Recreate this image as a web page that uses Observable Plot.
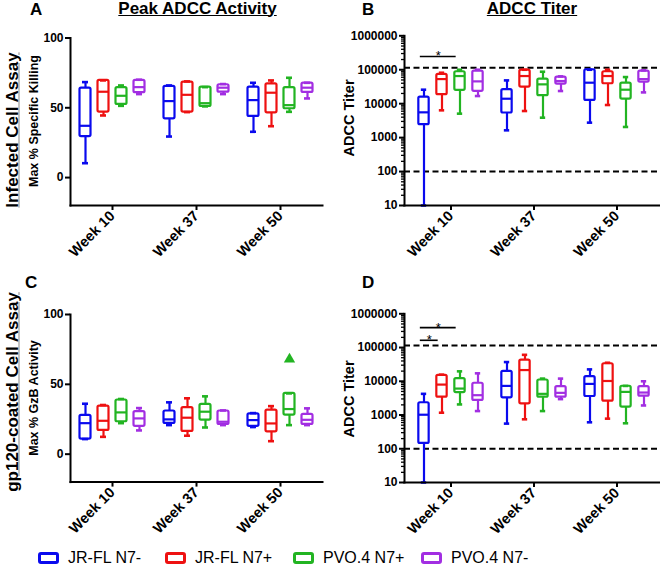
<!DOCTYPE html>
<html><head><meta charset="utf-8">
<script src="https://cdn.jsdelivr.net/npm/d3@7"></script>
<script src="https://cdn.jsdelivr.net/npm/@observablehq/plot@0.6"></script>
<style>
body{margin:0;background:#fff;}
#root{position:relative;width:660px;height:565px;overflow:hidden;font-family:"Liberation Sans",Arial,sans-serif;color:#000;background:#fff;}
.svgwrap{position:absolute;}
.svgwrap svg{background:transparent !important;overflow:visible;}
.letter{position:absolute;font-weight:bold;font-size:17px;line-height:1;}
.title{position:absolute;font-weight:bold;font-size:17px;line-height:1;text-decoration:underline;text-decoration-thickness:1px;white-space:nowrap;transform:translateX(-50%);}
.rowlab{position:absolute;font-weight:bold;font-size:17px;line-height:1;white-space:nowrap;text-decoration:underline;text-decoration-color:#888;transform:translate(-50%,-50%) rotate(-90deg);}
.ylab{position:absolute;font-weight:bold;line-height:1;white-space:nowrap;transform:translate(-50%,-50%) rotate(-90deg);}
.leg{position:absolute;top:548px;height:20px;display:flex;align-items:center;}
.sw{box-sizing:border-box;width:21px;height:12px;border:3px solid;border-radius:3px;margin-right:9px;}
.lt{font-family:"Liberation Sans Narrow","Arial Narrow","Liberation Sans",sans-serif;font-size:16px;line-height:1;}
</style>
</head><body>
<div id="root"></div>
<script>
// ---------- data ----------
const weeks = ["Week 10", "Week 37", "Week 50"];
const groups = ["JR-FL N7-", "JR-FL N7+", "PVO.4 N7+", "PVO.4 N7-"];
const colors = ["#0a0aee", "#ee1111", "#22b422", "#a22ee2"];

// each entry: [min, q1, median, q3, max] for Week 10, Week 37, Week 50
// Panel A: Infected cell assay, Max % specific killing
const peakInfected = [
  [[10.3, 29.4, 37.1, 64.1, 68.4], [29.4, 42.1, 54.8, 65.3, 66.0], [32.8, 43.8, 55.5, 64.8, 67.9]],
  [[44.5, 46.9, 61.5, 69.6, 69.6], [46.9, 46.9, 59.3, 68.4, 68.9], [36.8, 46.4, 60.8, 67.2, 69.6]],
  [[51.4, 52.4, 58.6, 64.4, 66.0], [51.0, 51.0, 53.3, 64.8, 64.8], [47.1, 49.3, 51.9, 64.4, 71.5]],
  [[59.8, 60.8, 64.8, 69.6, 70.1], [59.8, 61.2, 64.4, 66.5, 67.0], [56.7, 61.0, 64.4, 67.7, 67.9]]
];
// Panel B: Infected cell assay, ADCC titer
const titerInfected = [
  [[10, 2410, 5560, 15700, 25800], [1640, 5310, 14000, 25800, 48500], [2760, 12500, 41500, 100000, 100000]],
  [[6370, 18400, 53100, 72900, 81600], [6080, 30900, 65200, 97000, 100000], [9140, 38700, 65200, 87300, 100000]],
  [[5080, 24700, 65200, 87300, 100000], [3870, 17200, 37100, 53100, 87300], [2060, 13700, 25800, 40500, 60800]],
  [[16800, 23100, 45400, 91400, 100000], [23600, 37900, 46400, 60800, 63700], [21500, 43400, 53100, 91400, 95600]]
];
// Panel C: gp120-coated cell assay, Max % GzB activity
const peakGp120 = [
  [[10.8, 10.8, 22.2, 27.8, 36.1], [20.8, 22.0, 24.9, 30.9, 37.1], [19.4, 19.9, 24.4, 28.9, 29.4]],
  [[12.4, 17.0, 23.9, 34.4, 35.2], [13.2, 16.3, 26.1, 33.3, 40.0], [9.3, 16.0, 22.0, 31.6, 34.4]],
  [[22.2, 23.2, 29.9, 38.8, 39.5], [19.1, 24.4, 30.4, 35.6, 41.4], [20.8, 28.0, 32.3, 43.5, 43.5]],
  [[17.0, 19.9, 25.6, 30.4, 33.0], [20.8, 21.3, 23.2, 30.9, 31.3], [20.8, 21.3, 24.6, 28.5, 32.8]]
];
const outliersGp120 = [{week: "Week 50", group: 2, value: 67.9}];
// Panel D: gp120-coated cell assay, ADCC titer
const titerGp120 = [
  [[10, 144, 1020, 2310, 4240], [556, 3240, 7290, 19700, 37100], [608, 3540, 8360, 13700, 22500]],
  [[1170, 3380, 7980, 15000, 15700], [747, 2150, 21500, 42400, 60800], [780, 2580, 10200, 33100, 35400]],
  [[2060, 4640, 6080, 12000, 19700], [1310, 3380, 4240, 10900, 12000], [569, 1720, 4850, 7130, 7290]],
  [[1310, 2700, 3870, 8730, 17200], [2960, 3380, 4540, 6960, 12000], [1920, 3620, 4640, 6960, 10000]]
];
const titerCutoffs = [115000, 100];
const sigInfected = [{week: "Week 10", from: 0, to: 2, value: 246000}];
const sigGp120 = [{week: "Week 10", from: 0, to: 2, value: 388000}, {week: "Week 10", from: 0, to: 1, value: 164000}];
const linearTicks = [0, 50, 100];
const logTicks = [10, 100, 1000, 10000, 100000, 1000000];

// ---------- helpers ----------
const STEP = 18, BOXW = 11, CAPW = 6, SW = 2.2;
const offset = i => (i - 1.5) * STEP;
const minorTicks = [];
for (let k = 1; k < 6; k++) for (let m = 2; m < 10; m++) minorTicks.push(m * Math.pow(10, k));

function boxMarks(rows, bw) {
  const marks = [];
  const boxInset = (bw - BOXW) / 2, capInset = (bw - CAPW) / 2;
  groups.forEach((g, i) => {
    const data = weeks.map((w, j) => {
      const [min, q1, median, q3, max] = rows[i][j];
      return {week: w, group: g, min, q1, median, q3, max};
    });
    const dx = offset(i), c = colors[i];
    const line = {x: "week", stroke: c, strokeWidth: SW, dx};
    marks.push(
      Plot.ruleX(data, {...line, y1: "min", y2: "q1"}),
      Plot.ruleX(data, {...line, y1: "q3", y2: "max"}),
      Plot.barY(data, {...line, y1: "q1", y2: "q3", fill: "white", insetLeft: boxInset, insetRight: boxInset, rx: 1.5}),
      Plot.tickY(data, {...line, y: "median", insetLeft: boxInset, insetRight: boxInset}),
      Plot.tickY(data, {...line, y: "min", insetLeft: capInset, insetRight: capInset, strokeWidth: 2.6}),
      Plot.tickY(data, {...line, y: "max", insetLeft: capInset, insetRight: capInset, strokeWidth: 2.6})
    );
  });
  return marks;
}

function sigMarks(sig, bw) {
  const marks = [];
  sig.forEach(s => {
    const x1 = offset(s.from) - 4, x2 = offset(s.to) - 3.5;
    marks.push(
      Plot.tickY([s], {x: "week", y: "value", stroke: "black", strokeWidth: 1.6,
        insetLeft: bw / 2 + x1, insetRight: bw / 2 - x2}),
      Plot.text([s], {x: "week", y: "value", text: () => "*", fontWeight: "normal", fontSize: 13,
        lineAnchor: "bottom", dy: 4, dx: (x1 + x2) / 2})
    );
  });
  return marks;
}

function makePanel({rows, type, width, height, mt, mb, ml, mr, xInsetL = 0, xInsetR = 0, cutoffs, sig, outliers}) {
  const bw = (width - ml - mr - xInsetL - xInsetR) / weeks.length;
  const isLog = type === "log";
  const marks = [];
  if (isLog) marks.push(Plot.ruleY(cutoffs, {stroke: "black", strokeWidth: 2, strokeDasharray: "6,3.5"}));
  marks.push(...boxMarks(rows, bw));
  if (outliers) marks.push(Plot.dot(outliers, {x: "week", y: "value", symbol: "triangle", fill: colors[2], stroke: "none", r: 4.2, dx: offset(2)}));
  if (sig) marks.push(...sigMarks(sig, bw));
  marks.push(
    Plot.frame({anchor: "left", stroke: "black", strokeWidth: 2}),
    Plot.frame({anchor: "bottom", stroke: "black", strokeWidth: 2}),
    Plot.axisY({ticks: isLog ? logTicks : linearTicks, tickSize: 5, tickPadding: 2, strokeWidth: 2,
      tickFormat: d => String(d), label: null, fontSize: 12}),
    Plot.axisX({tickRotate: -45, tickSize: 5, tickPadding: 3, strokeWidth: 2, label: null, fontSize: 14.5})
  );
  if (isLog) marks.push(Plot.axisY({ticks: minorTicks, tickSize: 3, strokeWidth: 1.3, tickFormat: () => "", label: null}));
  return Plot.plot({
    width, height, marginTop: mt, marginBottom: mb, marginLeft: ml, marginRight: mr,
    x: {type: "band", domain: weeks, padding: 0, insetLeft: xInsetL, insetRight: xInsetR, label: null},
    y: isLog ? {type: "log", domain: [10, 1000000], label: null} : {domain: [-20, 100], label: null},
    style: {fontFamily: "Liberation Sans, Arial, sans-serif", fontSize: "12px", fontWeight: "bold", color: "black", background: "transparent"},
    marks
  });
}

const root = document.getElementById("root");
function place(node, left, top) {
  const d = document.createElement("div");
  d.className = "svgwrap"; d.style.left = left + "px"; d.style.top = top + "px";
  d.appendChild(node); root.appendChild(d);
}
function html(cls, text, left, top, extra = {}) {
  const d = document.createElement("div");
  d.className = cls; d.textContent = text;
  d.style.left = left + "px"; d.style.top = top + "px";
  Object.assign(d.style, extra);
  root.appendChild(d);
}

place(makePanel({rows: peakInfected, type: "linear", width: 330, height: 260, mt: 37.5, mb: 55, ml: 70, mr: 8}), 0, 0);
place(makePanel({rows: titerInfected, type: "log", width: 330, height: 260, mt: 35.3, mb: 55, ml: 74, mr: 0, xInsetL: 3.5, xInsetR: 1.5, cutoffs: titerCutoffs, sig: sigInfected}), 330, 0);
place(makePanel({rows: peakGp120, type: "linear", width: 330, height: 270, mt: 44, mb: 58.4, ml: 70, mr: 8, outliers: outliersGp120}), 0, 270);
place(makePanel({rows: titerGp120, type: "log", width: 330, height: 270, mt: 43.3, mb: 58, ml: 74, mr: 0, xInsetL: 3.5, xInsetR: 1.5, cutoffs: titerCutoffs, sig: sigGp120}), 330, 270);

// panel letters and titles
html("letter", "A", 30, 0.5);
html("letter", "B", 362, 0.5);
html("letter", "C", 25, 273.5);
html("letter", "D", 362, 273.5);
html("title", "Peak ADCC Activity", 197.5, 0);
html("title", "ADCC Titer", 532, 0);
// row labels
html("rowlab", "Infected Cell Assay", 11.5, 130);
html("rowlab", "gp120-coated Cell Assay", 11.5, 392);
// y axis labels
html("ylab", "Max % Specific Killing", 34, 121, {fontSize: "12.5px"});
html("ylab", "Max % GzB Activity", 34, 398, {fontSize: "12.5px"});
html("ylab", "ADCC Titer", 348.6, 118, {fontSize: "14.5px"});
html("ylab", "ADCC Titer", 348.6, 398.5, {fontSize: "14.5px"});

// legend
const legX = [38, 165, 293, 421];
groups.forEach((g, i) => {
  const d = document.createElement("div");
  d.className = "leg"; d.style.left = legX[i] + "px";
  const sw = document.createElement("div"); sw.className = "sw"; sw.style.borderColor = colors[i];
  const t = document.createElement("span"); t.className = "lt"; t.textContent = g;
  d.appendChild(sw); d.appendChild(t); root.appendChild(d);
});
</script>
</body></html>
